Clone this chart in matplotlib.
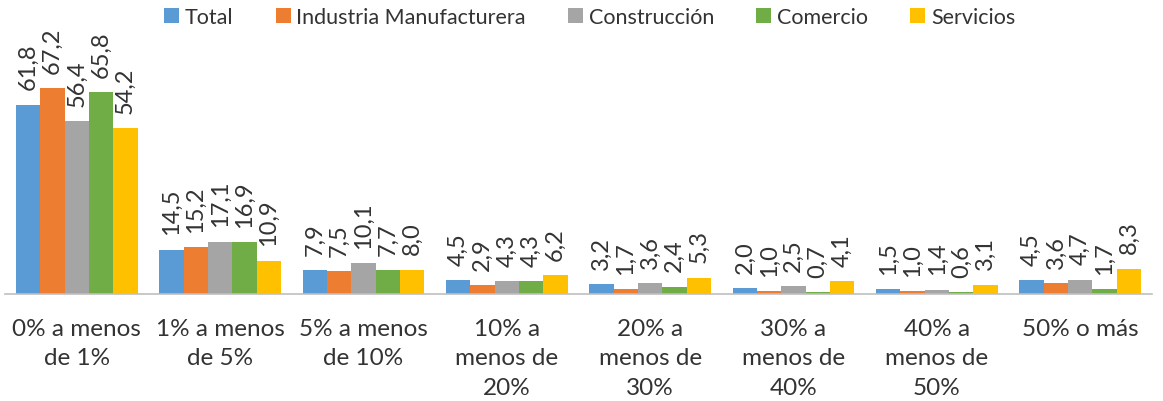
import numpy as np
import matplotlib.pyplot as plt

plt.rcParams['font.family'] = ['Lato', 'DejaVu Sans']

categorias = ["0% a menos\nde 1%", "1% a menos\nde 5%", "5% a menos\nde 10%", "10% a\nmenos de\n20%",
              "20% a\nmenos de\n30%", "30% a\nmenos de\n40%", "40% a\nmenos de\n50%", "50% o más"]
series = ["Total", "Industria Manufacturera", "Construcción", "Comercio", "Servicios"]
total = [61.8, 14.5, 7.9, 4.5, 3.2, 2.0, 1.5, 4.5]
industria = [67.2, 15.2, 7.5, 2.9, 1.7, 1.0, 1.0, 3.6]
construccion = [56.4, 17.1, 10.1, 4.3, 3.6, 2.5, 1.4, 4.7]
comercio = [65.8, 16.9, 7.7, 4.3, 2.4, 0.7, 0.6, 1.7]
servicios = [54.2, 10.9, 8.0, 6.2, 5.3, 4.1, 3.1, 8.3]
colores = ["#5B9BD5", "#ED7D31", "#A5A5A5", "#70AD47", "#FFC000"]

valores = [total, industria, construccion, comercio, servicios]
texto = "#333333"

fig = plt.figure(figsize=(11.63, 4.02), dpi=100)
ax = fig.add_axes([5/1163, 1 - 295/402, 1147/1163, 245/402])

x = np.arange(len(categorias))
ancho = 0.17
for i, (nombre, vals) in enumerate(zip(series, valores)):
    pos = x + (i - 2) * ancho
    ax.bar(pos, vals, ancho, color=colores[i], label=nombre)
    for p, v in zip(pos, vals):
        ax.annotate(f"{v:.1f}".replace(".", ","), (p, v), xytext=(0, 11), textcoords="offset points",
                    rotation=90, ha="center", va="bottom", fontsize=17, color=texto)

ax.set_xlim(-0.5, len(categorias) - 0.5)
ax.set_ylim(0, 80)
ax.set_yticks([])
ax.set_xticks(x)
ax.set_xticklabels(categorias, fontsize=17.5, color=texto, linespacing=1.52)
ax.tick_params(axis="x", length=0, pad=17)
for s in ["top", "right", "left"]:
    ax.spines[s].set_visible(False)
ax.spines["bottom"].set_color("#BFBFBF")
ax.spines["bottom"].set_linewidth(1.2)

leg = fig.legend(loc="center", bbox_to_anchor=(0.507, 0.955), ncol=5, frameon=False,
                 fontsize=15.5, handlelength=0.7, handleheight=0.65, handletextpad=0.27, columnspacing=1.95)
for t in leg.get_texts():
    t.set_color(texto)

fig.savefig("out.png", dpi=100)
